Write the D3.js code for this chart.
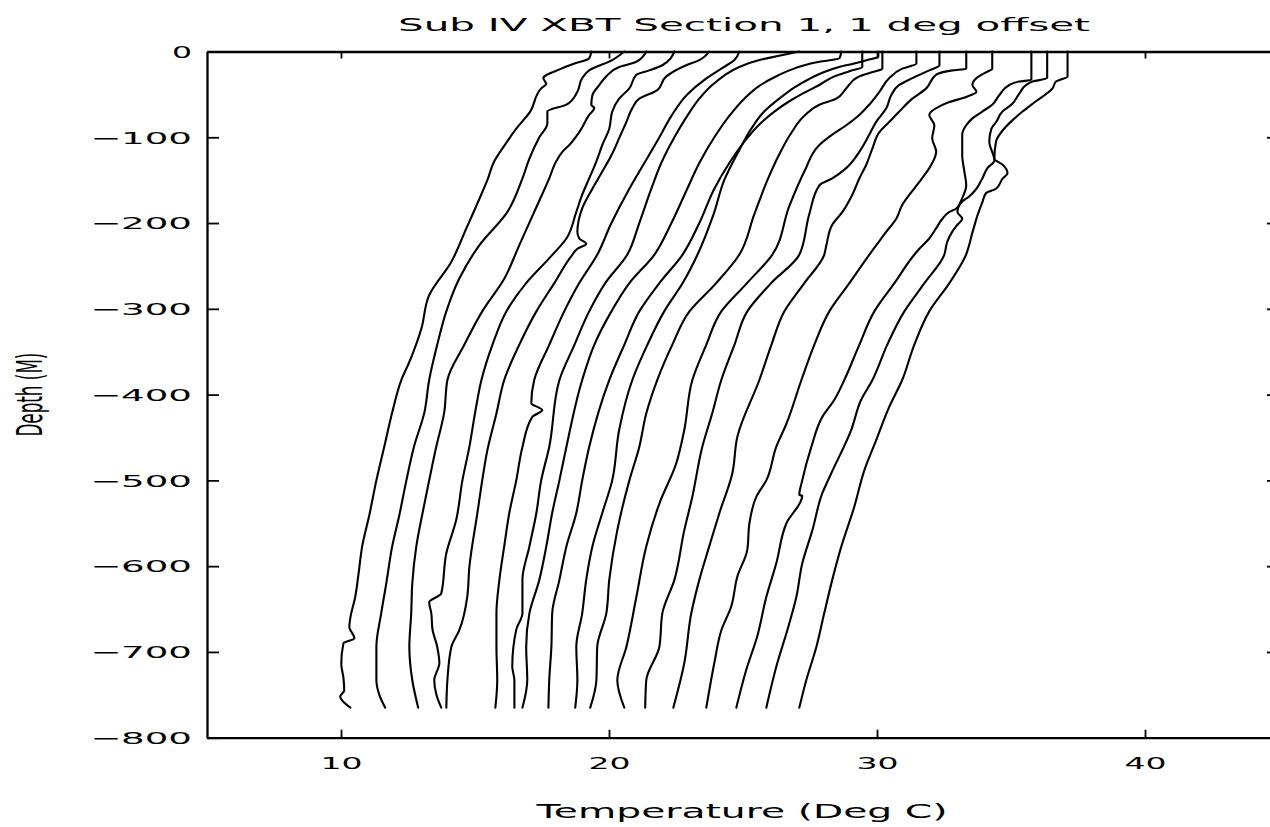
<!DOCTYPE html>
<html>
<head>
<meta charset="utf-8">
<script src="https://cdn.jsdelivr.net/npm/d3@7"></script>
<style>
  body { margin: 0; background: #fff; }
  svg { display: block; }
</style>
</head>
<body>
<svg id="chart"></svg>
<script>
// XBT casts, [depth (m, positive down), temperature (deg C, 1 deg offset per cast)]
const cast01 = [[0,19.34],[8,19.26],[14,18.71],[20,18.22],[31,17.55],[38,17.66],[43,17.47],[70,17.06],[90,16.54],[110,16.09],[128,15.72],[150,15.46],[167,15.23],[206,14.68],[245,14.12],[284,13.29],[323,13.00],[362,12.55],[383,12.25],[421,11.91],[460,11.62],[500,11.32],[540,11.06],[577,10.79],[610,10.65],[636,10.53],[660,10.35],[671,10.31],[684,10.50],[690,10.09],[714,10.01],[730,10.09],[745,10.12],[752,9.97],[765,10.35]];
const cast02 = [[0,20.57],[10,20.12],[22,19.26],[31,19.00],[47,18.82],[62,18.41],[70,17.70],[84,17.70],[100,17.40],[125,17.03],[148,16.77],[187,16.21],[226,15.16],[265,14.41],[303,13.93],[342,13.59],[383,13.29],[421,13.11],[460,12.73],[500,12.44],[540,12.18],[577,11.91],[620,11.69],[655,11.50],[694,11.32],[733,11.32],[750,11.43],[765,11.65]];
const cast03 = [[0,21.39],[12,21.02],[18,20.38],[29,19.90],[39,19.64],[51,19.38],[62,19.34],[66,19.45],[74,19.26],[94,18.89],[109,18.52],[117,18.26],[128,18.03],[148,17.77],[187,17.21],[226,16.65],[265,16.09],[303,15.27],[342,14.60],[383,13.97],[421,13.85],[460,13.56],[500,13.29],[540,13.03],[577,12.81],[620,12.66],[655,12.62],[694,12.55],[733,12.66],[765,12.88]];
const cast04 = [[0,22.44],[16,21.99],[22,21.50],[27,21.02],[43,20.76],[55,20.38],[70,20.12],[90,20.01],[109,19.75],[128,19.53],[148,19.26],[167,19.00],[187,18.78],[218,18.41],[240,17.80],[270,16.91],[303,16.17],[342,15.65],[383,15.24],[420,15.01],[461,14.79],[500,14.53],[546,14.30],[585,13.93],[632,13.74],[642,13.29],[655,13.37],[673,13.41],[694,13.59],[713,13.67],[733,13.48],[750,13.56],[765,13.74]];
const cast05 = [[0,23.74],[10,23.37],[16,22.88],[29,22.14],[45,21.80],[55,21.13],[66,20.87],[82,20.65],[101,20.38],[121,20.09],[140,19.75],[160,19.38],[183,19.00],[210,18.82],[218,18.89],[224,19.15],[230,18.82],[237,18.63],[270,17.96],[303,17.29],[342,16.65],[383,16.09],[422,15.80],[465,15.46],[500,15.27],[538,15.09],[601,14.79],[636,14.71],[675,14.41],[694,14.12],[733,13.97],[765,13.93]];
const cast06 = [[0,24.86],[10,24.68],[20,24.19],[33,23.56],[50,22.92],[75,22.33],[100,21.88],[130,21.32],[160,20.76],[200,20.09],[237,19.56],[270,18.89],[303,18.33],[342,17.77],[383,17.21],[410,17.10],[418,17.51],[426,17.14],[461,16.77],[500,16.54],[538,16.28],[577,16.09],[616,15.91],[655,15.80],[694,15.80],[733,15.83],[765,15.76]];
const cast07 = [[0,27.10],[5,26.35],[10,25.61],[18,24.86],[28,24.30],[40,23.82],[55,23.37],[75,22.92],[100,22.44],[130,21.95],[160,21.58],[200,21.13],[237,20.68],[270,19.86],[303,19.26],[342,18.71],[383,18.15],[461,17.77],[500,17.47],[538,17.29],[577,17.03],[616,16.77],[655,16.77],[674,16.54],[717,16.39],[733,16.47],[765,16.47]];
const cast08 = [[0,28.67],[8,28.60],[12,27.85],[16,27.29],[22,26.73],[30,26.17],[40,25.61],[55,25.05],[75,24.49],[100,23.93],[130,23.37],[160,22.92],[200,22.33],[237,21.69],[270,20.76],[303,20.09],[342,19.45],[383,19.00],[461,18.41],[500,18.15],[538,17.88],[577,17.66],[616,17.40],[655,17.03],[694,16.91],[733,16.95],[765,16.77]];
const cast09 = [[0,29.45],[18,29.45],[23,28.97],[29,28.41],[39,27.85],[48,27.29],[58,26.73],[70,26.17],[85,25.61],[105,25.05],[130,24.49],[160,23.93],[200,23.37],[237,22.74],[270,21.88],[303,21.13],[342,20.57],[383,20.01],[461,19.26],[500,19.00],[538,18.78],[577,18.41],[616,18.15],[655,17.88],[694,17.85],[733,17.77],[765,17.74]];
const cast10 = [[0,30.05],[6,30.05],[10,29.64],[14,29.15],[18,28.59],[24,28.03],[32,27.47],[42,26.91],[55,26.35],[70,25.79],[90,25.31],[115,24.86],[150,24.30],[190,23.90],[237,23.30],[270,22.75],[303,22.06],[342,21.43],[383,20.87],[441,20.38],[500,20.12],[538,19.75],[577,19.38],[616,19.15],[655,19.00],[694,18.78],[733,18.82],[765,18.74]];
const cast11 = [[0,30.20],[20,30.20],[24,29.83],[29,29.34],[43,28.85],[55,28.48],[62,27.85],[75,27.29],[95,26.80],[120,26.35],[150,25.91],[190,25.42],[237,24.86],[270,24.00],[303,23.00],[342,22.36],[383,21.80],[422,21.39],[461,21.13],[500,20.76],[558,20.31],[616,20.01],[655,19.90],[694,19.56],[733,19.53],[765,19.30]];
const cast12 = [[0,31.47],[14,31.47],[20,30.94],[31,30.46],[47,30.09],[62,29.71],[74,29.34],[86,28.85],[97,28.33],[109,27.85],[140,27.29],[180,26.73],[237,26.09],[270,25.15],[303,24.19],[342,23.63],[383,23.11],[441,22.81],[480,22.51],[527,21.88],[577,21.39],[636,21.02],[694,20.65],[733,20.31],[765,20.57]];
const cast13 = [[0,32.33],[16,32.33],[22,31.95],[31,31.32],[39,30.83],[51,30.53],[66,30.35],[82,29.97],[97,29.71],[117,29.34],[136,28.85],[148,28.33],[156,27.85],[190,27.47],[237,27.10],[270,26.05],[303,25.16],[342,24.68],[383,24.19],[422,23.85],[461,23.48],[519,23.11],[558,22.81],[616,22.44],[655,21.99],[694,21.88],[733,21.39],[765,21.35]];
const cast14 = [[0,33.33],[20,33.33],[22,32.81],[27,32.21],[43,31.84],[55,31.32],[70,30.83],[82,30.46],[94,30.09],[113,29.83],[132,29.60],[148,29.34],[167,29.08],[187,28.71],[202,28.33],[226,28.11],[237,28.03],[270,27.29],[303,26.54],[342,26.06],[383,25.61],[449,24.79],[492,24.60],[538,24.12],[577,23.74],[616,23.37],[655,23.07],[713,22.81],[765,22.40]];
const cast15 = [[0,34.30],[20,34.30],[24,34.08],[31,33.71],[39,33.56],[47,33.71],[53,33.33],[59,32.70],[64,32.33],[74,31.95],[86,32.14],[101,32.06],[117,32.21],[125,32.14],[136,31.95],[152,31.58],[167,31.21],[179,30.94],[195,30.72],[210,30.35],[226,29.97],[237,29.71],[270,28.97],[303,28.22],[342,27.66],[383,27.18],[434,26.62],[461,26.24],[500,25.87],[519,25.50],[550,25.24],[581,25.16],[612,24.79],[647,24.56],[675,24.19],[713,23.93],[765,23.63]];
const cast16 = [[0,35.76],[33,35.76],[35,35.31],[39,34.94],[51,34.56],[62,34.30],[70,33.93],[78,33.56],[86,33.33],[97,33.18],[121,33.18],[140,33.26],[156,33.33],[171,33.18],[183,32.96],[187,32.70],[195,32.44],[206,32.21],[218,31.95],[230,31.58],[237,31.39],[270,30.65],[303,29.90],[342,29.34],[383,28.78],[406,28.41],[426,27.96],[461,27.55],[500,27.21],[517,27.10],[518,27.21],[550,26.62],[597,26.24],[636,25.87],[682,25.53],[721,25.12],[765,24.75]];
const cast17 = [[0,36.35],[31,36.35],[35,35.80],[39,35.57],[49,35.31],[61,35.05],[70,34.68],[82,34.45],[90,34.27],[105,34.19],[127,34.38],[136,34.12],[148,33.93],[160,33.71],[169,33.44],[175,33.18],[187,33.00],[195,33.18],[202,33.00],[210,32.81],[222,32.62],[237,32.51],[270,31.77],[303,31.02],[342,30.38],[383,29.83],[406,29.41],[441,29.04],[492,28.29],[515,27.96],[558,27.59],[597,27.21],[636,26.99],[675,26.65],[713,26.28],[765,25.87]];
const cast18 = [[0,37.11],[29,37.11],[35,36.68],[43,36.55],[58,35.93],[70,35.43],[80,35.06],[92,34.69],[105,34.44],[125,34.38],[132,34.69],[142,34.87],[148,34.69],[160,34.44],[165,34.07],[175,33.94],[191,33.75],[210,33.57],[237,33.32],[270,32.70],[303,31.95],[342,31.39],[383,30.94],[414,30.46],[453,29.97],[488,29.53],[531,29.15],[577,28.67],[616,28.33],[655,28.03],[694,27.74],[733,27.36],[765,27.10]];

const casts = [cast01, cast02, cast03, cast04, cast05, cast06, cast07, cast08, cast09,
               cast10, cast11, cast12, cast13, cast14, cast15, cast16, cast17, cast18];

const tempTicks = [10, 20, 30, 40];
const depthTicks = [0, -100, -200, -300, -400, -500, -600, -700, -800];
const rightTicks = [-100, -200, -300, -400, -500, -600, -700];

const titleText = "Sub IV XBT Section 1, 1 deg offset";
const xLabel = "Temperature (Deg C)";
const yLabel = "Depth (M)";

const W = 1270, H = 827;
const plotL = 207, plotR = 1279, plotT = 51.5, plotB = 737.7;

const svg = d3.select('#chart')
    .attr('width', W)
    .attr('height', H)
    .style('background', '#fff');

const x = d3.scaleLinear().domain([5, 45]).range([plotL, plotR]);
const y = d3.scaleLinear().domain([-800, 0]).range([plotB, plotT]);

const tickFont = "'DejaVu Sans', sans-serif";

// profiles
const line = d3.line()
    .x(d => x(d[1]))
    .y(d => y(-d[0]))
    .curve(d3.curveMonotoneY);

svg.append('g')
    .selectAll('path')
    .data(casts)
    .join('path')
    .attr('d', line)
    .attr('fill', 'none')
    .attr('stroke', '#000')
    .attr('stroke-width', 2.1)
    .attr('stroke-linejoin', 'round')
    .attr('stroke-linecap', 'round');

// axes
const fmt = d => d < 0 ? '\u2212' + Math.abs(d) : String(d);

const gLeft = svg.append('g')
    .attr('transform', `translate(${plotL},0)`)
    .call(d3.axisLeft(y).tickValues(depthTicks).tickSize(-12).tickSizeOuter(0).tickFormat(fmt));

gLeft.selectAll('.tick text')
    .attr('x', -15)
    .attr('dy', '0.36em')
    .attr('textLength', d => d === 0 ? 20 : 102)
    .attr('lengthAdjust', 'spacingAndGlyphs');

const gBottom = svg.append('g')
    .attr('transform', `translate(0,${plotB})`)
    .call(d3.axisBottom(x).tickValues(tempTicks).tickSize(-8).tickSizeOuter(0));

gBottom.selectAll('.tick text')
    .attr('y', 31)
    .attr('dy', 0)
    .attr('textLength', 42)
    .attr('lengthAdjust', 'spacingAndGlyphs');

svg.append('g')
    .attr('transform', `translate(0,${plotT})`)
    .call(d3.axisTop(x).tickValues(tempTicks).tickSize(-7).tickSizeOuter(0).tickFormat(''));

svg.append('g')
    .attr('transform', `translate(${plotR},0)`)
    .call(d3.axisRight(y).tickValues(rightTicks).tickSize(-12).tickSizeOuter(0).tickFormat(''));

svg.selectAll('.domain')
    .attr('stroke', '#000')
    .attr('stroke-width', 2.3);

svg.selectAll('.tick line')
    .attr('stroke', '#000')
    .attr('stroke-width', 1.8);

svg.selectAll('.tick text')
    .attr('fill', '#000')
    .style('font-family', tickFont)
    .style('font-size', '16px');

// labels
svg.append('text')
    .attr('x', 744)
    .attr('y', 31)
    .attr('text-anchor', 'middle')
    .attr('textLength', 692)
    .attr('lengthAdjust', 'spacingAndGlyphs')
    .style('font-family', tickFont)
    .style('font-size', '18px')
    .text(titleText);

svg.append('text')
    .attr('x', 742)
    .attr('y', 818)
    .attr('text-anchor', 'middle')
    .attr('textLength', 411)
    .attr('lengthAdjust', 'spacingAndGlyphs')
    .style('font-family', tickFont)
    .style('font-size', '19px')
    .text(xLabel);

svg.append('text')
    .attr('transform', `translate(42,${(plotT + plotB) / 2}) rotate(-90)`)
    .attr('text-anchor', 'middle')
    .attr('textLength', 84)
    .attr('lengthAdjust', 'spacingAndGlyphs')
    .style('font-family', "'Liberation Sans Narrow', 'DejaVu Sans Condensed', sans-serif")
    .style('font-size', '35px')
    .text(yLabel);
</script>
</body>
</html>
